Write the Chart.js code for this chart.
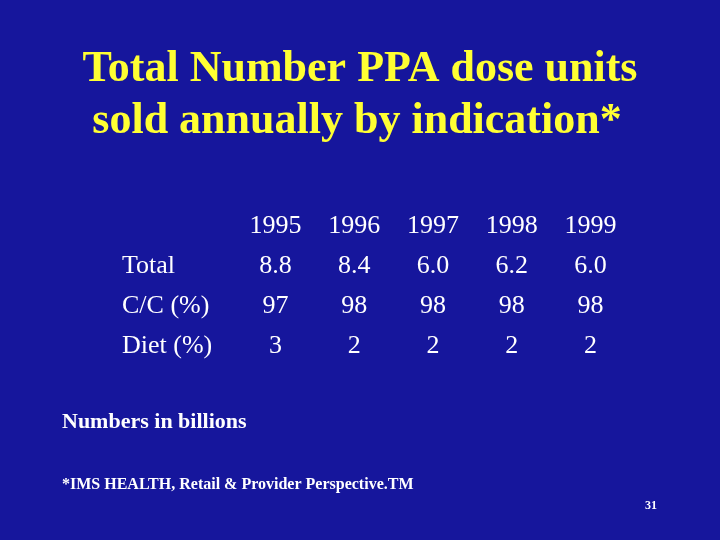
<!DOCTYPE html>
<html>
<head>
<meta charset="utf-8">
<script src="https://cdn.jsdelivr.net/npm/chart.js@4"></script>
<style>
  html, body { margin: 0; padding: 0; background: #16169c; }
  #slide { display: block; }
</style>
</head>
<body>
<canvas id="slide" width="720" height="540"></canvas>
<script>
const titleLines = ['Total Number PPA dose units', 'sold annually by indication*'];
const years = ['1995', '1996', '1997', '1998', '1999'];
const rowNames = ['Total', 'C/C (%)', 'Diet (%)'];
const totalUnits = ['8.8', '8.4', '6.0', '6.2', '6.0'];
const ccPct = ['97', '98', '98', '98', '98'];
const dietPct = ['3', '2', '2', '2', '2'];
const rows = [totalUnits, ccPct, dietPct];
const noteText = 'Numbers in billions';
const sourceText = '*IMS HEALTH, Retail & Provider Perspective.TM';
const pageNo = '31';

const serif = '"Liberation Serif", "Times New Roman", serif';

// draws background and all the slide text, table cells placed via the scales
const slidePlugin = {
  id: 'slide',
  beforeDraw: (chart) => {
    const c = chart.ctx;
    c.save();
    c.fillStyle = '#16169c';
    c.fillRect(0, 0, chart.width, chart.height);
    c.restore();
  },
  afterDraw: (chart) => {
    const c = chart.ctx;
    const xs = chart.scales.x, ys = chart.scales.y;
    c.save();
    c.textBaseline = 'middle';

    c.fillStyle = '#ffff33';
    c.font = 'bold 44px ' + serif;
    c.textAlign = 'center';
    c.fillText(titleLines[0], 360, 70);
    c.fillText(titleLines[1], 357, 122);

    c.fillStyle = '#ffffff';
    c.font = '26px ' + serif;
    years.forEach((yr) => {
      c.fillText(yr, xs.getPixelForValue(yr), ys.getPixelForValue('header'));
    });
    rowNames.forEach((name, r) => {
      const y = ys.getPixelForValue(name);
      c.textAlign = 'left';
      c.fillText(name, 122, y);
      c.textAlign = 'center';
      rows[r].forEach((v, i) => {
        c.fillText(v, xs.getPixelForValue(years[i]), y);
      });
    });

    c.textAlign = 'left';
    c.font = 'bold 22px ' + serif;
    c.fillText(noteText, 62, 422);
    c.font = 'bold 16px ' + serif;
    c.fillText(sourceText, 62, 485);
    c.font = 'bold 12px ' + serif;
    c.fillText(pageNo, 645, 506);
    c.restore();
  }
};

var ctx = document.getElementById('slide').getContext('2d');
var slideChart = new Chart(ctx, {
  type: 'scatter',
  data: {
    datasets: rowNames.map((name, r) => ({
      label: name,
      data: years.map((yr) => ({ x: yr, y: name })),
      pointRadius: 0
    }))
  },
  options: {
    responsive: false,
    animation: false,
    layout: { padding: { left: 236, right: 90, top: 206, bottom: 174 } },
    plugins: { legend: { display: false }, tooltip: { enabled: false } },
    scales: {
      x: { type: 'category', labels: years, offset: true, display: false },
      y: { type: 'category', labels: ['header'].concat(rowNames), offset: true, display: false }
    }
  },
  plugins: [slidePlugin]
});
</script>
</body>
</html>
